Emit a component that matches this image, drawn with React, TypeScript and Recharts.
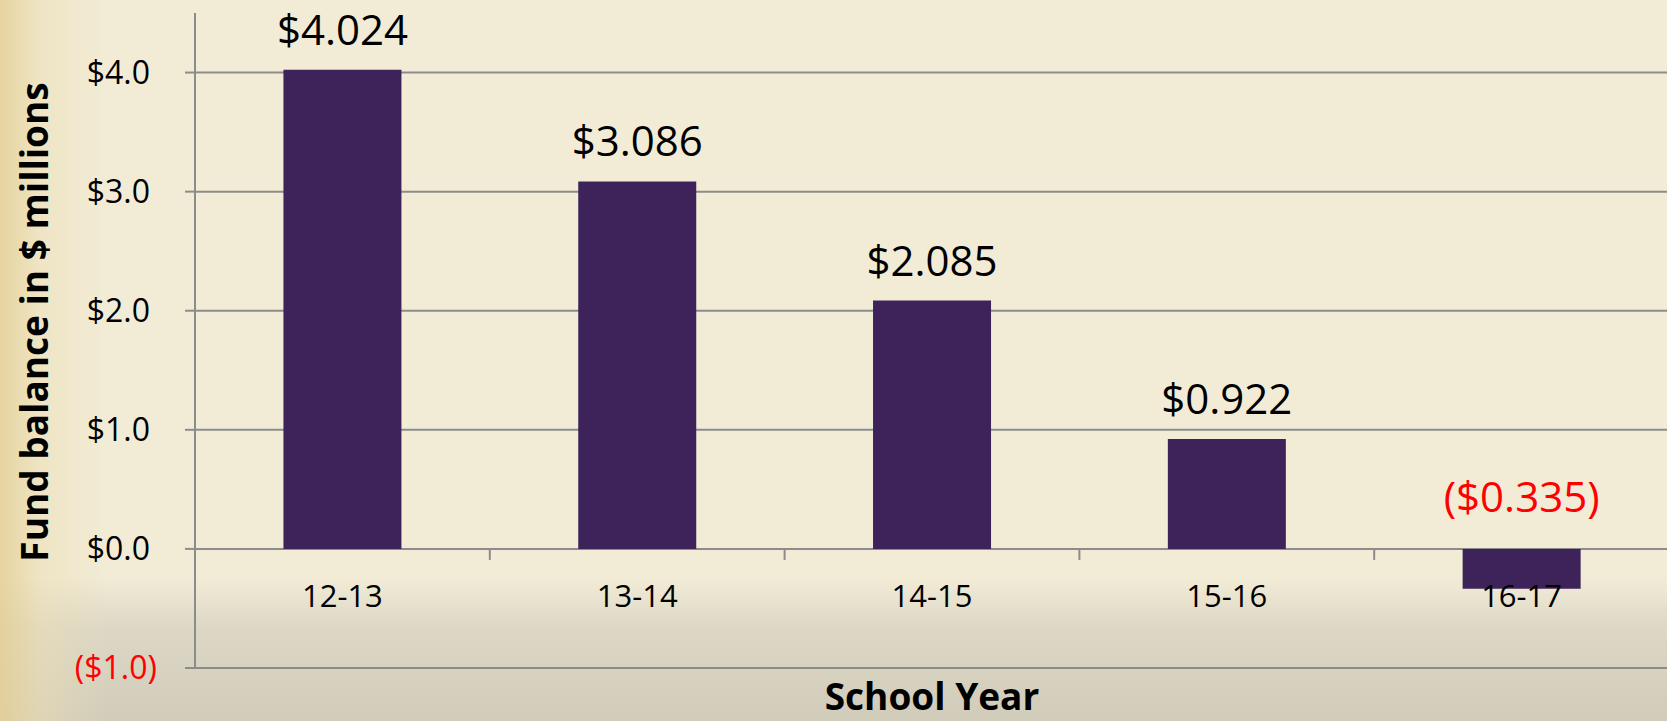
import { Bar, BarChart, CartesianGrid, LabelList, XAxis, YAxis } from 'recharts';

const categories = ['12-13', '13-14', '14-15', '15-16', '16-17'];
const balances = [4.024, 3.086, 2.085, 0.922, -0.335];
const yTicks = [-1, 0, 1, 2, 3, 4];

const data = categories.map((year, i) => ({ year, balance: balances[i] }));

const CHART_W = 1680;
const CHART_H = 721;
const MARGIN = { top: 13, right: 11, bottom: 0, left: 0 };
const Y_AXIS_W = 195;
const X_AXIS_H = 53;
const Y_MIN = -1;
const Y_MAX = 4.5;

const PLOT_W = CHART_W - MARGIN.left - MARGIN.right - Y_AXIS_W;
const PLOT_H = CHART_H - MARGIN.top - MARGIN.bottom - X_AXIS_H;
const BAND = PLOT_W / categories.length;
const ZERO_Y = MARGIN.top + (Y_MAX / (Y_MAX - Y_MIN)) * PLOT_H;

const FONT = '"Open Sans", "Noto Sans", sans-serif';
const GRID = '#8c8c8c';
const BAR = '#3d2359';
const RED = '#ff0000';

const fmtTick = (v: number) => (v < 0 ? `($${Math.abs(v).toFixed(1)})` : `$${v.toFixed(1)}`);
const fmtValue = (v: number) => (v < 0 ? `($${Math.abs(v).toFixed(3)})` : `$${v.toFixed(3)}`);

function YTick(props: any) {
  const { y, payload } = props;
  const v = payload.value as number;
  return (
    <text
      x={v < 0 ? 157 : 150}
      y={y}
      dy="0.355em"
      textAnchor="end"
      fontFamily={FONT}
      fontSize={32}
      fill={v < 0 ? RED : '#000'}
    >
      {fmtTick(v)}
    </text>
  );
}

function XTick(props: any) {
  const { x, payload, index } = props;
  const left = x - BAND / 2;
  return (
    <g>
      <line x1={left} x2={left} y1={ZERO_Y} y2={ZERO_Y + 11} stroke={GRID} strokeWidth={2} />
      {index === categories.length - 1 && (
        <line x1={left + BAND} x2={left + BAND} y1={ZERO_Y} y2={ZERO_Y + 11} stroke={GRID} strokeWidth={2} />
      )}
      <text x={x} y={ZERO_Y + 58} textAnchor="middle" fontFamily={FONT} fontSize={31} fill="#000">
        {payload.value}
      </text>
    </g>
  );
}

function ValueLabel(props: any) {
  const { x, y, width, height, value } = props;
  const v = Number(value);
  const top = Math.min(y, y + height);
  return (
    <text
      x={x + width / 2}
      y={v < 0 ? top - 37 : top - 25}
      textAnchor="middle"
      fontFamily={FONT}
      fontSize={42}
      fill={v < 0 ? RED : '#000'}
    >
      {fmtValue(v)}
    </text>
  );
}

function YTitle() {
  return (
    <text
      x={48}
      y={322}
      transform="rotate(-90 48 322)"
      textAnchor="middle"
      fontFamily={FONT}
      fontWeight={700}
      fontSize={37}
      fill="#000"
    >
      Fund balance in $ millions
    </text>
  );
}

export default function App() {
  return (
    <div
      style={{
        position: 'absolute',
        left: 0,
        top: 0,
        width: 1667,
        height: 721,
        overflow: 'hidden',
        background:
          'linear-gradient(to right, rgba(228,208,150,0.85) 0px, rgba(236,222,178,0.5) 40px, rgba(242,236,214,0) 110px), linear-gradient(to bottom, #f2ecd7 0%, #f2ecd7 80%, #ddd8c6 87%, #d1ccba 100%)',
      }}
    >
      <BarChart width={CHART_W} height={CHART_H} data={data} margin={MARGIN} barCategoryGap="30%">
        <CartesianGrid
          horizontal
          vertical={false}
          horizontalValues={yTicks}
          stroke={GRID}
          strokeWidth={2}
        />
        <XAxis
          dataKey="year"
          height={X_AXIS_H}
          axisLine={false}
          tickLine={false}
          interval={0}
          tick={<XTick />}
          label={{
            value: 'School Year',
            position: 'insideBottom',
            offset: 11,
            style: { fontFamily: FONT, fontWeight: 700, fontSize: 37, fill: '#000' },
          }}
        />
        <YAxis
          width={Y_AXIS_W}
          domain={[Y_MIN, Y_MAX]}
          ticks={yTicks}
          tickSize={10}
          axisLine={{ stroke: GRID, strokeWidth: 2 }}
          tickLine={{ stroke: GRID, strokeWidth: 2 }}
          tick={<YTick />}
          label={<YTitle />}
        />
        <Bar dataKey="balance" fill={BAR} isAnimationActive={false}>
          <LabelList dataKey="balance" content={<ValueLabel />} />
        </Bar>
      </BarChart>
    </div>
  );
}
